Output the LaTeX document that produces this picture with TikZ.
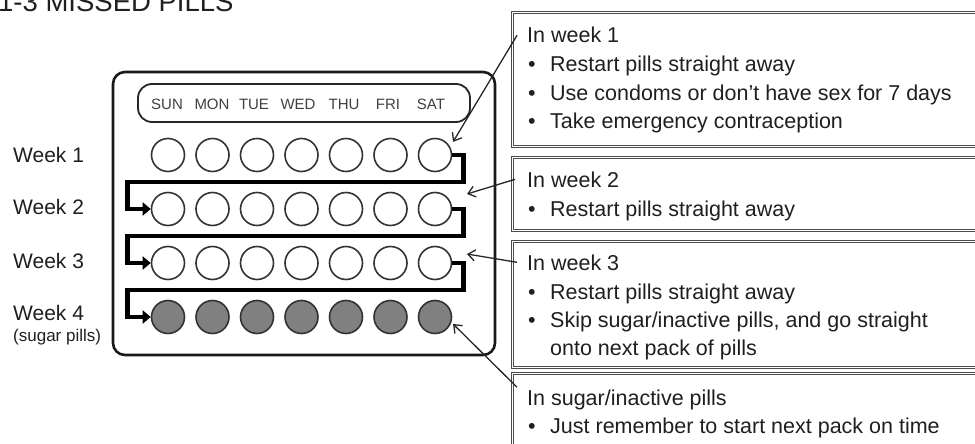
\documentclass[tikz,border=0pt]{standalone}
\usepackage{fontspec}
\setmainfont{Liberation Sans}
\usetikzlibrary{arrows.meta}

\newcommand{\bul}{\makebox[23pt][l]{\hspace{1pt}\textbullet}}

\begin{document}
\begin{tikzpicture}[
    x=1pt, y=-1pt,
    pill/.style={circle, draw=black!80, line width=1.6pt, minimum size=33pt, inner sep=0pt},
    sugar/.style={pill, fill=black!50},
    pack/.style={draw=black!90, line width=2.6pt, rounded corners=12pt, minimum width=382pt, minimum height=283pt, inner sep=0pt},
    daybar/.style={draw=black!85, line width=1.8pt, rounded corners=14pt, minimum width=332pt, minimum height=38pt, inner sep=0pt},
    day/.style={font=\fontsize{15}{16}\selectfont, text=black!75, inner sep=0pt, anchor=base},
    week/.style={font=\fontsize{21}{24}\selectfont, text=black!88, inner sep=0pt, anchor=base west},
    infobox/.style={draw=black!70, double=white, double distance=1.1pt, line width=0.8pt, anchor=north west, minimum width=478pt, inner sep=0pt},
    info/.style={font=\fontsize{21.5}{24}\selectfont, text=black!88, inner sep=0pt, anchor=base west},
    track/.style={line width=4.6pt, -{Triangle[length=8pt,width=13pt]}},
    pointer/.style={line width=1.3pt, draw=black!85, -{Straight Barb[length=7pt,width=11pt]}},
]

\useasboundingbox (0,0) rectangle (975,444);

% Title
\node[anchor=base west, font=\fontsize{27.5}{30}\selectfont, inner sep=0pt, text=black!88] (title) at (-2,12) {1-3 MISSED PILLS};

% Pill pack
\node[pack] (pack) at (304,213.5) {};
\node[daybar] (bar) at (304,103) {};
\foreach \x/\name in {167/SUN, 212/MON, 254/TUE, 298/WED, 344/THU, 388/FRI, 431/SAT}
    \node[day] (\name) at (\x,110) {\name};

% Pills
\foreach \w in {1,2,3}
    \foreach \d in {1,...,7}
        \node[pill] (p\w\d) at ({168+44.5*(\d-1)},{155+54*(\w-1)}) {};
\foreach \d in {1,...,7}
    \node[sugar] (p4\d) at ({168+44.5*(\d-1)},317) {};

% Week labels
\node[week] (w1) at (13,162) {Week 1};
\node[week] (w2) at (13,214) {Week 2};
\node[week] (w3) at (13,268) {Week 3};
\node[week] (w4) at (13,320) {Week 4};
\node[week, font=\fontsize{17}{20}\selectfont] (w4s) at (13,341) {(sugar pills)};

% Track from week to week
\foreach \w [evaluate=\w as \n using int(\w+1)] in {1,2,3}
    \draw[track] (p\w7.east) -- ++(11,0) |- ([xshift=-23pt,yshift=27pt]p\n1.west)
        -- ([xshift=-23pt]p\n1.west) -- (p\n1.west);

% Info boxes
\node[infobox, minimum height=134pt] (b1) at (512,12) {};
\node[infobox, minimum height=73pt] (b2) at (512,157) {};
\node[infobox, minimum height=126pt] (b3) at (512,241) {};
\node[infobox, minimum height=90pt] (b4) at (512,373) {};

\node[info] (h1) at (527,43) {In week 1};
\node[info] (h1a) at (527,71.5) {\bul Restart pills straight away};
\node[info] (h1b) at (527,100) {\bul Use condoms or don't have sex for 7 days};
\node[info] (h1c) at (527,128.5) {\bul Take emergency contraception};

\node[info] (h2) at (527,187) {In week 2};
\node[info] (h2a) at (527,216) {\bul Restart pills straight away};

\node[info] (h3) at (527,270) {In week 3};
\node[info] (h3a) at (527,299) {\bul Restart pills straight away};
\node[info] (h3b) at (527,327.5) {\bul Skip sugar/inactive pills, and go straight};
\node[info] (h3c) at (527,355) {\hspace*{23pt}onto next pack of pills};

\node[info] (h4) at (527,405) {In sugar/inactive pills};
\node[info] (h4a) at (527,433) {\bul Just remember to start next pack on time};

% Pointers
\coordinate (t2) at (467,194);
\coordinate (t3) at (467,254);
\draw[pointer] ([xshift=-10pt]h1.west) -- ([shift={(36:5pt)}]p17.36);
\draw[pointer] ([xshift=-12pt]h2.west) -- (t2);
\draw[pointer] ([xshift=-10pt]h3.west) -- (t3);
\draw[pointer] ([xshift=-10pt,yshift=2pt]h4.north west) -- ([shift={(-21:2pt)}]p47.-21);

\end{tikzpicture}
\end{document}
